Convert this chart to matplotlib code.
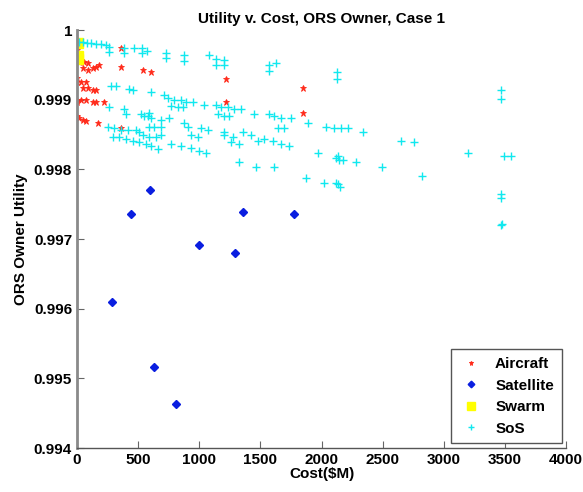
import matplotlib
matplotlib.use("Agg")
import matplotlib.pyplot as plt

plt.rcParams['font.family'] = ['Liberation Sans', 'DejaVu Sans']

# Aircraft
air_cost = [0, 360, 16, 57, 90, 131, 90, 49, 155, 180, 360, 540, 605, 1219, 1849,
            0, 0, 33, 74, 49, 90, 131, 155, 0, 33, 74, 131, 155, 221, 1219,
            0, 16, 49, 74, 172, 360, 1849, 0]
air_util = [0.99971, 0.99974, 0.99954, 0.99954, 0.99953, 0.99946, 0.99943, 0.99946, 0.99947, 0.99950,
            0.99947, 0.99943, 0.99940, 0.99930, 0.99917,
            0.99931, 0.99926, 0.99926, 0.99926, 0.99917, 0.99917, 0.99914, 0.99914,
            0.99900, 0.99900, 0.99900, 0.99897, 0.99896, 0.99896, 0.99897,
            0.99877, 0.99874, 0.99871, 0.99869, 0.99867, 0.99860, 0.99881, 0.99897]

# Satellite
sat_cost = [284, 443, 598, 628, 811, 995, 1290, 1361, 1776]
sat_util = [0.99610, 0.99736, 0.99771, 0.99516, 0.99463, 0.99692, 0.99680, 0.99739, 0.99736]

# Swarm
swarm_cost = [5, 5, 5]
swarm_util = [0.99959, 0.99962, 0.99981]

# SoS
sos_cost = [16, 49, 82, 115, 155, 196, 237, 262, 262, 384, 384, 466, 532, 532, 573,
            728, 728, 875, 875, 1080, 1137, 1202, 1137, 1202, 1571, 1628, 1571, 2127, 2127,
            3468, 3468,
            278, 319, 425, 458, 605, 712, 744, 793, 851, 892, 949, 1039, 1137, 1178, 1235,
            1284, 1342, 769, 826, 867, 262, 384, 401, 524, 548, 581, 589, 605, 687, 753,
            1153, 1202, 1243, 1448, 1571, 1611, 1669, 1751,
            254, 303, 360, 417, 483, 589, 630, 687, 875, 908, 1014, 1072, 1202, 1358, 1423,
            1530, 1644, 1693, 1890, 2037, 2102, 2160, 2217, 2340, 2650, 2757,
            507, 540, 589, 646, 687, 933, 990, 1202, 1276, 1669, 1734,
            294, 344, 401, 458, 507, 564, 605, 663, 769, 851, 933, 998, 1055, 1260, 1325,
            1481, 1603,
            1325, 1464, 1611, 1971, 2135, 2143, 2282, 2119, 2176, 2495, 2822, 3195, 3494, 3551,
            1873, 2020, 2119, 2135, 2151, 3468, 3468, 3468, 3472]
sos_util = [0.99983, 0.99983, 0.99981, 0.99981, 0.99980, 0.99980, 0.99979, 0.99976, 0.99969,
            0.99974, 0.99967, 0.99974, 0.99974, 0.99967, 0.99970,
            0.99967, 0.99960, 0.99964, 0.99956, 0.99964, 0.99959, 0.99957, 0.99950, 0.99950,
            0.99950, 0.99953, 0.99941, 0.99940, 0.99930,
            0.99914, 0.99901,
            0.99920, 0.99919, 0.99916, 0.99914, 0.99911, 0.99906, 0.99903, 0.99900, 0.99900,
            0.99897, 0.99897, 0.99893, 0.99893, 0.99890, 0.99889,
            0.99887, 0.99886, 0.99891, 0.99890, 0.99889, 0.99889, 0.99886, 0.99880, 0.99879,
            0.99876, 0.99876, 0.99881, 0.99874, 0.99871, 0.99873,
            0.99879, 0.99876, 0.99876, 0.99880, 0.99879, 0.99876, 0.99874, 0.99874,
            0.99861, 0.99860, 0.99857, 0.99857, 0.99857, 0.99861, 0.99861, 0.99861, 0.99867,
            0.99861, 0.99860, 0.99857, 0.99854, 0.99853, 0.99850,
            0.99843, 0.99860, 0.99860, 0.99867, 0.99861, 0.99860, 0.99860, 0.99859, 0.99853,
            0.99841, 0.99839,
            0.99853, 0.99850, 0.99847, 0.99846, 0.99849, 0.99850, 0.99847, 0.99850, 0.99847,
            0.99836, 0.99833,
            0.99847, 0.99846, 0.99843, 0.99840, 0.99839, 0.99836, 0.99833, 0.99829, 0.99836,
            0.99833, 0.99831, 0.99827, 0.99824, 0.99839, 0.99836,
            0.99840, 0.99840,
            0.99811, 0.99804, 0.99803, 0.99824, 0.99819, 0.99814, 0.99811, 0.99817, 0.99814,
            0.99803, 0.99790, 0.99824, 0.99819, 0.99819,
            0.99787, 0.99781, 0.99781, 0.99779, 0.99774, 0.99764, 0.99759, 0.99720, 0.99722]

xticks = [0, 500, 1000, 1500, 2000, 2500, 3000, 3500, 4000]
yticks = [0.994, 0.995, 0.996, 0.997, 0.998, 0.999, 1.0]
ytick_labels = ['0.994', '0.995', '0.996', '0.997', '0.998', '0.999', '1']

fig = plt.figure(figsize=(5.83, 4.92), dpi=100)
ax = fig.add_axes([0.132, 0.0894, 0.839, 0.8496])

ax.plot(air_cost, air_util, linestyle='none', marker='*', color='#ff2a1a',
        markersize=4.5, markeredgewidth=0.6, label='Aircraft')
ax.plot(sat_cost, sat_util, linestyle='none', marker='D', color='#0a1ee0',
        markersize=4.2, label='Satellite')
ax.plot(swarm_cost, swarm_util, linestyle='none', marker='s', color='#ffff00',
        markersize=6.5, label='Swarm')
ax.plot(sos_cost, sos_util, linestyle='none', marker='+', color='#10e8ef',
        markersize=6, markeredgewidth=1.0, label='SoS')

ax.set_xlim(0, 4000)
ax.set_ylim(0.994, 1.0)
ax.set_xticks(xticks)
ax.set_xticklabels([str(v) for v in xticks])
ax.set_yticks(yticks)
ax.set_yticklabels(ytick_labels)

for s in ['top', 'right']:
    ax.spines[s].set_visible(False)
ax.spines['left'].set_color('#8a8a8a')
ax.spines['left'].set_linewidth(2.0)
ax.spines['bottom'].set_color('#555555')
ax.spines['bottom'].set_linewidth(1.0)
ax.tick_params(direction='in', length=5, color='#666666', labelsize=11)
for lbl in ax.get_xticklabels() + ax.get_yticklabels():
    lbl.set_fontweight('bold')

ax.set_title('Utility v. Cost, ORS Owner, Case 1', fontsize=11, fontweight='bold', pad=5)
ax.set_xlabel('Cost($M)', fontsize=11, fontweight='bold', labelpad=0)
ax.set_ylabel('ORS Owner Utility', fontsize=11, fontweight='bold', labelpad=4)

leg = ax.legend(loc='lower right', prop={'size': 11, 'weight': 'bold'}, fancybox=False,
                edgecolor='#555555', framealpha=1, borderaxespad=0.3,
                handletextpad=0.8, markerscale=0.8, handlelength=1.6, borderpad=0.5)
leg.get_frame().set_linewidth(1.0)

fig.savefig('out.png', dpi=100)
